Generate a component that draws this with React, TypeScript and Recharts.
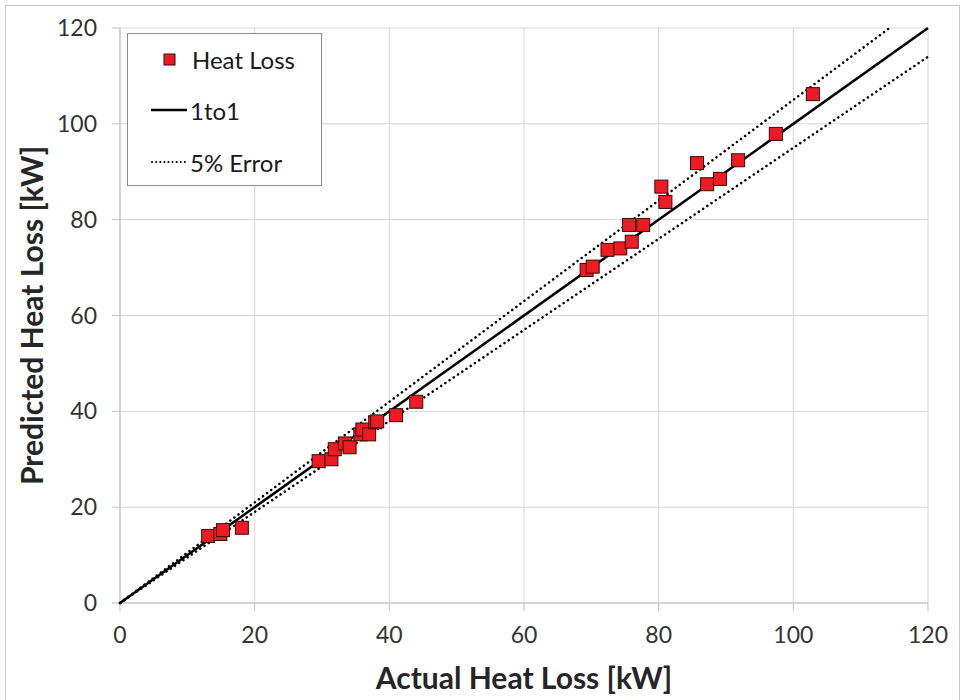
import React from 'react';
import {
  ScatterChart,
  Scatter,
  XAxis,
  YAxis,
  CartesianGrid,
  Legend,
  Label,
} from 'recharts';

// Measured (actual) vs. model (predicted) heat loss, kW
const actualKW = [
  13.1, 14.9, 15.3, 18.1, 29.5, 31.4, 31.9, 33.4, 34.1, 35.7, 36.0, 37.0, 37.9,
  38.2, 41.0, 44.0, 69.3, 70.2, 72.4, 74.3, 76.0, 75.6, 77.7, 80.4, 81.0, 85.7,
  87.2, 89.1, 91.8, 97.4, 102.9,
];
const predictedKW = [
  14.0, 14.4, 15.2, 15.7, 29.6, 30.0, 32.1, 33.3, 32.5, 35.2, 36.2, 35.2, 37.7,
  37.9, 39.2, 42.0, 69.5, 70.2, 73.7, 74.0, 75.4, 78.9, 78.9, 86.9, 83.7, 91.8,
  87.4, 88.5, 92.4, 97.9, 106.2,
];

// Reference lines: perfect agreement and the +/-5% band
const oneToOne = [
  { x: 0, y: 0 },
  { x: 120, y: 120 },
];
const errorUpper = [
  { x: 0, y: 0 },
  { x: 114.29, y: 120 },
];
const errorLower = [
  { x: 0, y: 0 },
  { x: 120, y: 114 },
];

const xTicks = [0, 20, 40, 60, 80, 100, 120];
const yTicks = [0, 20, 40, 60, 80, 100, 120];

const heatLoss = actualKW.map((x, i) => ({ x, y: predictedKW[i] }));

const RED = '#ed1c24';
const FONT = 'Lato, "Open Sans", sans-serif';
const DOTTED = { stroke: '#000', strokeWidth: 2.5, strokeDasharray: '0.1 5', strokeLinecap: 'round' as const };

const SquareMarker = (props: any) => {
  const { cx, cy } = props;
  if (cx == null || cy == null) return <g />;
  return (
    <rect
      x={cx - 6.5}
      y={cy - 6.5}
      width={13}
      height={13}
      fill={RED}
      stroke="#3a0808"
      strokeWidth={1}
    />
  );
};

const NoMarker = () => <g />;

const LegendBox = () => (
  <svg width={195} height={153} style={{ display: 'block' }}>
    <rect x={0.5} y={0.5} width={194} height={152} fill="#fff" stroke="#8c8c8c" strokeWidth={1} />
    <rect x={37} y={21} width={11} height={11} fill={RED} stroke="#3a0808" strokeWidth={1} />
    <text x={65} y={26} dominantBaseline="central" fontSize={24} fill="#1a1a1a" fontFamily={FONT}>
      Heat Loss
    </text>
    <line x1={24} y1={77} x2={60} y2={77} stroke="#000" strokeWidth={2.5} />
    <text x={63} y={77} dominantBaseline="central" fontSize={24} fill="#1a1a1a" fontFamily={FONT}>
      1to1
    </text>
    <line x1={25} y1={129} x2={59} y2={129} stroke="#000" strokeWidth={2} strokeDasharray="0.1 4" strokeLinecap="round" />
    <text x={63} y={129} dominantBaseline="central" fontSize={24} fill="#1a1a1a" fontFamily={FONT}>
      5% Error
    </text>
  </svg>
);

export default function App() {
  return (
    <div
      style={{
        position: 'absolute',
        left: 0,
        top: 0,
        width: 962,
        height: 700,
        background: '#fff',
        fontFamily: FONT,
        overflow: 'hidden',
      }}
    >
      <div
        style={{
          position: 'absolute',
          left: 5,
          top: 5,
          width: 955,
          height: 720,
          border: '1px solid #c8c8c8',
          boxSizing: 'border-box',
        }}
      />
      <ScatterChart
        width={962}
        height={700}
        margin={{ top: 28, right: 34, bottom: 0, left: 0 }}
        style={{ position: 'absolute', left: 0, top: 0 }}
      >
        <CartesianGrid stroke="#d6d6d6" strokeWidth={1} />
        <XAxis
          type="number"
          dataKey="x"
          domain={[0, 120]}
          ticks={xTicks}
          height={97}
          tickSize={8}
          tickMargin={16}
          stroke="#bfbfbf"
          tick={{ fill: '#333', fontSize: 23, fontFamily: FONT }}
        >
          <Label
            value="Actual Heat Loss [kW]"
            position="insideBottom"
            offset={11}
            fontSize={30}
            fontWeight={700}
            fill="#262626"
            fontFamily={FONT}
          />
        </XAxis>
        <YAxis
          type="number"
          dataKey="y"
          domain={[0, 120]}
          ticks={yTicks}
          width={120}
          tickSize={8}
          tickMargin={15}
          stroke="#bfbfbf"
          tick={{ fill: '#333', fontSize: 23, fontFamily: FONT }}
        >
          <Label
            value="Predicted Heat Loss [kW]"
            angle={-90}
            position="insideLeft"
            offset={32}
            fontSize={30}
            fontWeight={700}
            fill="#262626"
            fontFamily={FONT}
            style={{ textAnchor: 'middle' }}
          />
        </YAxis>
        <Legend
          layout="horizontal"
          verticalAlign="middle"
          align="center"
          content={() => <LegendBox />}
          wrapperStyle={{ position: 'absolute', left: 127, top: 33, width: 195, height: 153 }}
        />
        <Scatter
          name="5% Error"
          data={errorUpper}
          shape={NoMarker}
          line={DOTTED}
          lineType="joint"
          isAnimationActive={false}
        />
        <Scatter
          name="5% Error lower"
          data={errorLower}
          shape={NoMarker}
          line={DOTTED}
          lineType="joint"
          isAnimationActive={false}
        />
        <Scatter
          name="1to1"
          data={oneToOne}
          shape={NoMarker}
          line={{ stroke: '#000', strokeWidth: 2.5 }}
          lineType="joint"
          isAnimationActive={false}
        />
        <Scatter
          name="Heat Loss"
          data={heatLoss}
          shape={SquareMarker}
          isAnimationActive={false}
        />
      </ScatterChart>
    </div>
  );
}
